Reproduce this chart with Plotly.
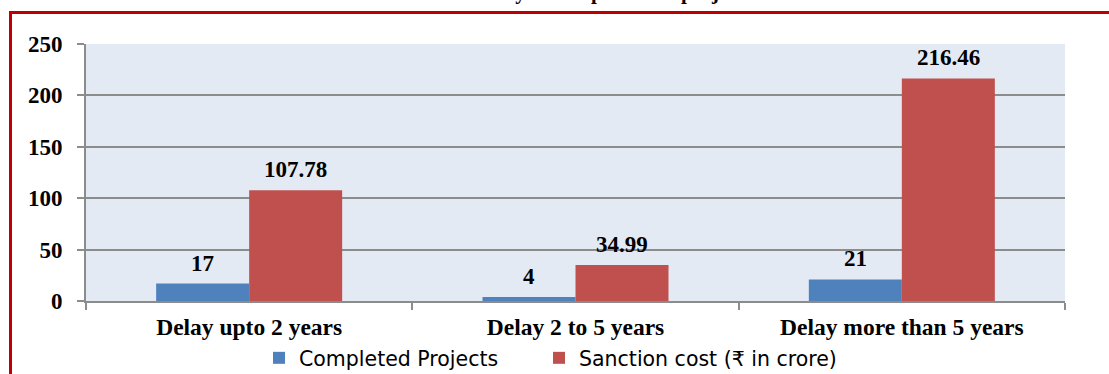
import plotly.graph_objects as go

categories = ["Delay upto 2 years", "Delay 2 to 5 years", "Delay more than 5 years"]
completed_projects = [17, 4, 21]
sanction_cost = [107.78, 34.99, 216.46]
completed_labels = ["17", "4", "21"]
sanction_labels = ["107.78", "34.99", "216.46"]
series_names = ["Completed Projects", "Sanction cost (₹ in crore)"]
y_ticks = [0, 50, 100, 150, 200, 250]
title_text = "Chart 1.5: Delay in completion of projects"

W, H = 1109, 374
L, R, T, B = 86, 44, 44, 73
pw, ph = W - L - R, H - T - B

def px_x(p):
    return (p - L) / pw

def px_y(p):
    return (H - B - p) / ph

BLUE = "#4F81BD"
RED = "#C0504D"
SERIF = "Liberation Serif"

fig = go.Figure()
fig.add_trace(go.Bar(x=categories, y=completed_projects, name=series_names[0],
                     marker=dict(color=BLUE, line=dict(width=0)), legend="legend"))
fig.add_trace(go.Bar(x=categories, y=sanction_cost, name=series_names[1],
                     marker=dict(color=RED, line=dict(width=0)), legend="legend2"))

annotations = []
half = 46.5
for cat, v, lab in zip(categories, completed_projects, completed_labels):
    annotations.append(dict(x=cat, y=v, xref="x", yref="y", text=f"<b>{lab}</b>",
                            showarrow=False, xshift=-half, yanchor="bottom", yshift=6,
                            font=dict(family=SERIF, size=23, color="#000")))
for cat, v, lab in zip(categories, sanction_cost, sanction_labels):
    annotations.append(dict(x=cat, y=v, xref="x", yref="y", text=f"<b>{lab}</b>",
                            showarrow=False, xshift=half, yanchor="bottom", yshift=6,
                            font=dict(family=SERIF, size=23, color="#000")))
annotations.append(dict(x=px_x(565), y=px_y(-8), xref="paper", yref="paper",
                        text=f"<b>{title_text}</b>", showarrow=False,
                        xanchor="center", yanchor="middle",
                        font=dict(family=SERIF, size=21, color="#000")))

shapes = [dict(type="path", xref="paper", yref="paper",
               path=f"M {px_x(10.5)} {px_y(400)} L {px_x(10.5)} {px_y(12.5)} L {px_x(1130)} {px_y(12.5)}",
               line=dict(color="#C00000", width=3), layer="above")]

legend_common = dict(orientation="h", xanchor="left", yanchor="middle",
                     font=dict(family="DejaVu Sans", size=20.5, color="#000"),
                     bgcolor="rgba(0,0,0,0)", itemclick=False)

fig.update_layout(
    width=W, height=H,
    margin=dict(l=L, r=R, t=T, b=B, pad=0, autoexpand=False),
    paper_bgcolor="white",
    plot_bgcolor="#E4EAF4",
    barmode="group",
    bargap=0.43,
    bargroupgap=0,
    showlegend=True,
    legend=dict(x=px_x(259), y=px_y(358), **legend_common),
    legend2=dict(x=px_x(539), y=px_y(358), **legend_common),
    annotations=annotations,
    shapes=shapes,
    xaxis=dict(type="category", showgrid=False, showline=True, linecolor="#8C8C8C", linewidth=2,
               ticks="outside", tickson="boundaries", ticklen=7, tickcolor="#8C8C8C", tickwidth=2,
               tickmode="array", tickvals=categories,
               ticktext=[f"<b>{c}</b>" for c in categories],
               tickfont=dict(family=SERIF, size=23.5, color="#000"),
               ticklabelstandoff=4, automargin=False),
    yaxis=dict(range=[0, 250], tickmode="array", tickvals=y_ticks,
               ticktext=[f"<b>{t}</b>" for t in y_ticks],
               showgrid=True, gridcolor="#8C8C8C", gridwidth=2,
               showline=True, linecolor="#8C8C8C", linewidth=2, zeroline=False,
               ticks="outside", ticklen=7, tickcolor="#8C8C8C", tickwidth=2,
               tickfont=dict(family=SERIF, size=23, color="#000"),
               ticklabelstandoff=10, automargin=False),
)

fig.write_html("out.html")
